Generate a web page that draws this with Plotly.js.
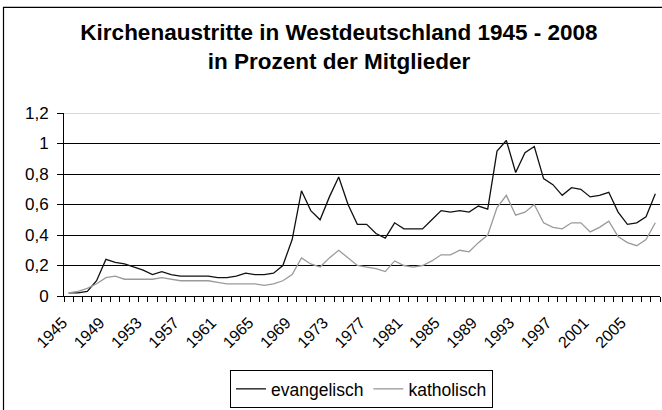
<!DOCTYPE html>
<html>
<head>
<meta charset="utf-8">
<script src="https://cdn.plot.ly/plotly-3.0.1.min.js"></script>
<style>html,body{margin:0;padding:0;background:#fff;}#chart{width:662px;height:410px;}</style>
</head>
<body>
<div id="chart"></div>
<script>
var years = [];
for (var y = 1945; y <= 2008; y++) years.push(y);

var evangelisch = [
  0.02, 0.02, 0.03, 0.10, 0.24, 0.22, 0.21, 0.19, 0.17, 0.14,
  0.16, 0.14, 0.13, 0.13, 0.13, 0.13, 0.12, 0.12, 0.13, 0.15,
  0.14, 0.14, 0.15, 0.20, 0.37, 0.69, 0.56, 0.50, 0.65, 0.78,
  0.60, 0.47, 0.47, 0.41, 0.38, 0.48, 0.44, 0.44, 0.44, 0.50,
  0.56, 0.55, 0.56, 0.55, 0.59, 0.57, 0.95, 1.02, 0.81, 0.94,
  0.98, 0.77, 0.73, 0.66, 0.71, 0.70, 0.65, 0.66, 0.68, 0.55,
  0.47, 0.48, 0.52, 0.67
];

var katholisch = [
  0.02, 0.03, 0.05, 0.08, 0.12, 0.13, 0.11, 0.11, 0.11, 0.11,
  0.12, 0.11, 0.10, 0.10, 0.10, 0.10, 0.09, 0.08, 0.08, 0.08,
  0.08, 0.07, 0.08, 0.10, 0.14, 0.25, 0.21, 0.19, 0.25, 0.30,
  0.25, 0.20, 0.19, 0.18, 0.16, 0.23, 0.20, 0.19, 0.20, 0.23,
  0.27, 0.27, 0.30, 0.29, 0.35, 0.40, 0.58, 0.66, 0.53, 0.55,
  0.60, 0.48, 0.45, 0.44, 0.48, 0.48, 0.42, 0.45, 0.49, 0.39,
  0.35, 0.33, 0.37, 0.48
];

var tickYears = [1945, 1949, 1953, 1957, 1961, 1965, 1969, 1973, 1977, 1981, 1985, 1989, 1993, 1997, 2001, 2005];
var tickLabels = tickYears.map(String);
var seriesNames = ['evangelisch', 'katholisch'];
var titleText = '<b>Kirchenaustritte in Westdeutschland 1945 - 2008</b><br><b>in Prozent der Mitglieder</b>';

var W = 662, H = 410;
var M = {l: 64, r: 2, t: 113, b: 109};
var pw = W - M.l - M.r, ph = H - M.t - M.b;
function px2x(p) { return (p - M.l) / pw; }
function px2y(p) { return (H - M.b - p) / ph; }

var font = 'Liberation Sans, Arial, sans-serif';

var traces = [
  {x: years, y: evangelisch, name: seriesNames[0], type: 'scatter', mode: 'lines',
   line: {color: '#111111', width: 1.3}},
  {x: years, y: katholisch, name: seriesNames[1], type: 'scatter', mode: 'lines',
   line: {color: '#9a9a9a', width: 1.3}}
];

var layout = {
  width: W, height: H,
  margin: M,
  paper_bgcolor: '#fff', plot_bgcolor: '#fff',
  separators: ',.',
  font: {family: font, size: 16, color: '#000'},
  title: {text: titleText, font: {family: font, size: 22.5, color: '#000'},
          x: 339 / W, xanchor: 'center', xref: 'container',
          y: (H - 40) / H, yanchor: 'top', yref: 'container'},
  showlegend: true,
  legend: {orientation: 'h', x: px2x(361.5), xanchor: 'center', y: px2y(377), yanchor: 'top',
           bordercolor: '#000', borderwidth: 1, font: {family: font, size: 17.5, color: '#000'},
           bgcolor: '#fff', itemwidth: 30},
  xaxis: {
    type: 'linear', range: [1944.5, 2008.5],
    tickmode: 'array', tickvals: tickYears, ticktext: tickLabels,
    tickangle: -45, ticks: '', showgrid: false, zeroline: false,
    showline: true, linecolor: '#000', linewidth: 1,
    tickfont: {family: font, size: 16, color: '#000'},
    ticklabelstandoff: 10, ticklabelshift: -6,
    minor: {tickmode: 'linear', tick0: 1944.5, dtick: 1, ticks: 'outside', ticklen: 5,
            tickcolor: '#000', tickwidth: 1, showgrid: false}
  },
  yaxis: {
    range: [0, 1.2], dtick: 0.2, tick0: 0,
    showgrid: true, gridcolor: '#000', gridwidth: 1,
    zeroline: false, showline: true, linecolor: '#000', linewidth: 1,
    ticks: 'outside', ticklen: 6, tickcolor: '#000',
    ticklabelstandoff: 5,
    tickfont: {family: font, size: 17, color: '#000'}
  },
  shapes: [
    {type: 'line', xref: 'paper', yref: 'y', x0: 0, x1: 1, y0: 1.2, y1: 1.2,
     line: {color: '#c8c8c8', width: 1.5}, layer: 'above'},
    {type: 'rect', xref: 'paper', yref: 'paper',
     x0: px2x(3.5), x1: px2x(680), y0: px2y(430), y1: px2y(4.5),
     line: {color: '#000', width: 1.2}, fillcolor: 'rgba(0,0,0,0)', layer: 'above'}
  ]
};

Plotly.newPlot('chart', traces, layout, {displayModeBar: false, staticPlot: true});
</script>
</body>
</html>
